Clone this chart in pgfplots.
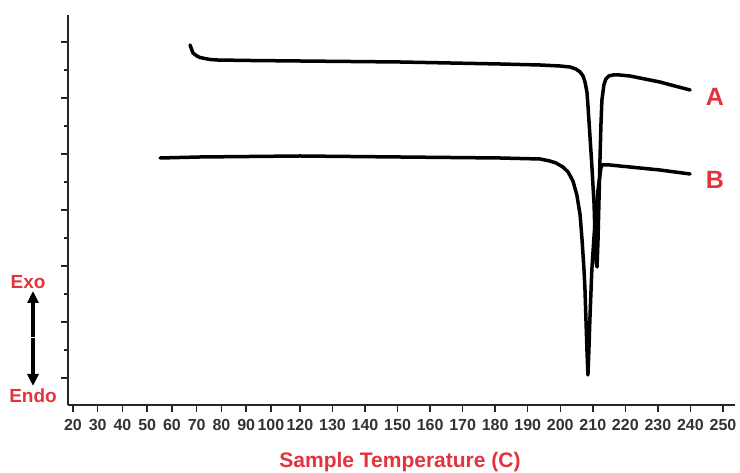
\documentclass[border=0pt]{standalone}
\usepackage{fontspec}
\setmainfont{Liberation Sans}
\usepackage{pgfplots}
\pgfplotsset{compat=1.18}
\usetikzlibrary{arrows.meta}
\definecolor{lblred}{RGB}{226,52,62}
\begin{document}
\begin{tikzpicture}[x=1pt,y=1pt]
\path[use as bounding box] (0,0) rectangle (740,473);
\begin{axis}[
  at={(68pt,68pt)}, anchor=south west,
  scale only axis, width=667pt, height=390pt,
  x coord trafo/.code={\pgfmathparse{(#1<100) ? (73+(#1-20)*2.475) : ((#1<120) ? (271+(#1-100)*1.45) : (300+(#1-120)*3.254))}},
  xmin=18, xmax=253.7, ymin=0, ymax=390,
  enlargelimits=false,
  axis lines=left,
  axis line style={-, line width=2.2pt, black!85},
  tick align=outside,
  xtick={20,30,40,50,60,70,80,90,100,120,130,140,150,160,170,180,190,200,210,220,230,240,250},
  xticklabels={20,30,40,50,60,70,80,90,100,120,130,140,150,160,170,180,190,200,210,220,230,240,250},
  minor x tick num=1,
  ytick={27,83,139,195,251,307,363},
  yticklabels={},
  minor y tick num=1,
  major tick length=7pt, minor tick length=4pt,
  every tick/.style={line width=1.5pt, black!85},
  /pgf/number format/assume math mode=true,
  x tick label style={font=\fontsize{16}{19}\selectfont\bfseries, text=black!80, inner xsep=0pt, yshift=-4pt},
  clip=false,
]
% Curve A
\addplot[line width=3.5pt, black, line join=round, line cap=round] coordinates {
(67.3,360) (68.5,352) (70.1,349) (71.3,347.5) (75.4,345.5) (78.2,345) (91.5,344.5)
(120,344) (150.7,343) (166.1,342) (181.5,341) (193.8,340) (199.9,339) (203.0,338)
(204.8,336) (206.1,333) (207.0,329) (207.6,323) (208.2,313) (208.5,300) (209.1,270)
(209.7,240) (210.4,200) (210.7,165) (211.0,143) (211.3,138)
(211.6,165) (211.9,205) (212.2,245) (212.5,280) (212.8,305) (213.4,320) (214.0,326)
(214.9,329) (216.2,330) (218.3,330) (221.4,329) (226.0,326) (230.6,323) (235.2,319) (239.9,315)
};
% Curve B
\addplot[line width=3.5pt, black, line join=round, line cap=round] coordinates {
(55.2,247) (71.3,248) (91.5,248.5) (120,249) (150.7,248) (166.1,247.5) (181.5,247)
(193.8,246) (196.8,244) (198.7,242) (200.8,238) (202.4,233) (203.9,224) (205.1,210)
(206.1,190) (206.7,165) (207.3,135) (207.6,115) (207.9,85) (208.2,55) (208.5,30)
(208.8,55) (209.1,85) (209.7,135) (210.4,170) (211.0,195) (211.6,215) (212.2,230)
(212.5,237) (212.8,240) (215.3,240) (218.3,239) (224.5,237) (230.6,235) (239.9,231)
};
\end{axis}
\node[text=lblred, font=\fontsize{25}{30}\selectfont\bfseries] at (715,376) {A};
\node[text=lblred, font=\fontsize{25}{30}\selectfont\bfseries] at (715,293) {B};
\node[text=lblred, font=\fontsize{19}{23}\selectfont\bfseries] at (28,191) {Exo};
\node[text=lblred, font=\fontsize{19}{23}\selectfont\bfseries] at (33,77) {Endo};
\node[text=lblred, font=\fontsize{21}{25}\selectfont\bfseries] at (400,11) {Sample Temperature (C)};
\draw[line width=4.5pt, black, -{Triangle[length=12pt,width=11pt]}] (33,136) -- (33,182);
\draw[line width=4.5pt, black, -{Triangle[length=12pt,width=11pt]}] (33,134.5) -- (33,87);
\end{tikzpicture}
\end{document}
